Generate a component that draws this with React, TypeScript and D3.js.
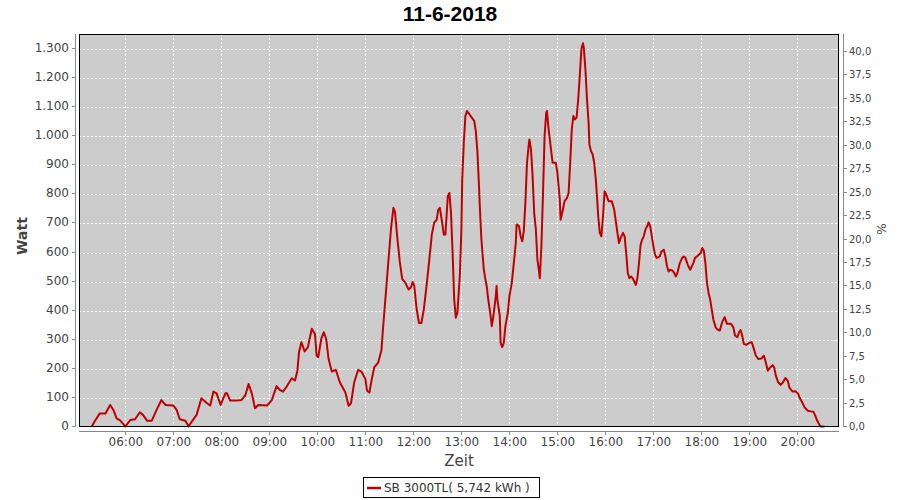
import React from "react";
import * as d3 from "d3";

const TITLE = "11-6-2018";
const X_LABEL = "Zeit";
const Y_LABEL = "Watt";
const Y2_LABEL = "%";
const LEGEND_LABEL = "SB 3000TL( 5,742 kWh )";

const times = [
  "05:18","05:22","05:28","05:35","05:41","05:45","05:49","05:53","05:57","06:00",
  "06:06","06:12","06:18","06:22","06:27","06:33","06:39","06:45","06:50","07:00",
  "07:04","07:08","07:15","07:19","07:23","07:29","07:35","07:42","07:46","07:50",
  "07:54","07:59","08:05","08:07","08:11","08:19","08:25","08:30","08:34","08:38",
  "08:42","08:46","08:57","09:03","09:09","09:13","09:17","09:21","09:28","09:32",
  "09:35","09:37","09:40","09:44","09:48","09:53","09:57","09:59","10:01","10:05",
  "10:08","10:11","10:14","10:18","10:23","10:28","10:35","10:39","10:42","10:46",
  "10:51","10:55","11:00","11:02","11:05","11:08","11:11","11:16","11:20","11:22",
  "11:26","11:29","11:32","11:35","11:37","11:40","11:43","11:46","11:50","11:54",
  "11:57","11:59","12:01","12:04","12:07","12:10","12:13","12:17","12:20","12:23",
  "12:26","12:29","12:31","12:33","12:36","12:38","12:40","12:43","12:45","12:47",
  "12:49","12:51","12:53","12:55","12:58","13:00","13:01","13:03","13:05","13:07",
  "13:10","13:13","13:16","13:18","13:20","13:22","13:23","13:25","13:28","13:30",
  "13:32","13:33","13:36","13:38","13:40","13:43","13:44","13:45","13:48","13:49",
  "13:51","13:53","13:55","13:58","14:00","14:03","14:06","14:08","14:09","14:12",
  "14:14","14:16","14:18","14:20","14:22","14:24","14:25","14:27","14:29","14:31",
  "14:33","14:35","14:37","14:38","14:40","14:42","14:44","14:46","14:47","14:49",
  "14:52","14:54","14:58","15:00","15:03","15:04","15:06","15:09","15:12","15:14",
  "15:16","15:18","15:20","15:22","15:24","15:26","15:28","15:30","15:32","15:33",
  "15:35","15:37","15:39","15:40","15:42","15:44","15:46","15:48","15:50","15:51",
  "15:53","15:55","15:57","15:59","16:01","16:04","16:08","16:11","16:13","16:15",
  "16:17","16:19","16:22","16:24","16:26","16:28","16:30","16:32","16:34","16:36",
  "16:38","16:40","16:42","16:44","16:46","16:48","16:50","16:53","16:54","16:56",
  "16:58","17:00","17:02","17:04","17:08","17:10","17:13","17:15","17:17","17:19",
  "17:21","17:24","17:26","17:28","17:30","17:33","17:36","17:38","17:40","17:43",
  "17:46","17:47","17:50","17:52","17:55","17:59","18:01","18:03","18:05","18:07",
  "18:09","18:11","18:13","18:15","18:18","18:20","18:23","18:26","18:29","18:32",
  "18:37","18:40","18:42","18:45","18:47","18:49","18:51","18:53","18:56","19:00",
  "19:03","19:05","19:08","19:11","19:15","19:18","19:20","19:23","19:26","19:29",
  "19:31","19:33","19:36","19:39","19:42","19:45","19:48","19:50","19:54","19:58",
  "20:01","20:03","20:06","20:09","20:13","20:17","20:20","20:22","20:24","20:27",
  "20:29","20:34"
];

const watts = [
  0,20,45,45,74,57,28,22,10,0,
  22,25,49,40,20,20,57,91,74,72,
  57,25,20,0,17,40,97,80,72,120,
  114,74,114,114,89,89,91,108,146,114,
  63,74,72,91,139,126,120,135,166,158,
  192,255,290,258,272,336,318,244,238,303,
  324,301,232,189,195,152,117,71,80,152,
  195,189,163,123,117,163,203,220,261,336,
  474,577,680,752,738,646,566,508,494,471,
  479,497,485,405,356,356,402,497,577,660,
  701,710,745,752,700,660,660,792,803,734,
  598,437,374,391,517,677,849,976,1068,1085,
  1074,1062,1051,1016,947,826,757,643,540,506,
  477,448,391,345,380,448,483,437,380,288,
  273,288,345,391,448,494,575,632,695,689,
  655,637,672,770,907,964,987,953,861,734,
  680,574,535,510,620,800,999,1079,1085,1022,
  953,907,907,873,780,711,734,775,786,803,
  907,1022,1068,1056,1062,1125,1206,1298,1318,1303,
  1229,1125,1045,970,947,936,907,850,769,723,
  666,654,723,809,798,775,775,746,706,666,
  631,648,666,654,597,528,510,516,510,499,
  487,510,562,625,643,654,677,694,702,689,
  654,620,591,580,585,602,608,585,551,533,
  539,536,528,516,528,562,580,585,580,556,
  539,545,562,580,586,596,614,605,562,493,
  459,436,401,367,340,334,330,359,376,353,
  353,341,313,307,324,332,313,284,281,288,
  290,272,244,232,234,244,226,192,203,211,
  203,175,152,143,152,167,157,134,120,121,
  112,97,83,66,54,52,51,39,25,8,
  0,0
];

const leftTicks = [0,100,200,300,400,500,600,700,800,900,1000,1100,1200,1300];
const rightTicks = [0,2.5,5,7.5,10,12.5,15,17.5,20,22.5,25,27.5,30,32.5,35,37.5,40];
const hourTicks = ["06:00","07:00","08:00","09:00","10:00","11:00","12:00","13:00","14:00","15:00","16:00","17:00","18:00","19:00","20:00"];
const X_START = "05:02";
const X_END = "20:52";
const LEFT_MAX = 1351.5;
const RIGHT_MAX = 41.92;

function parseT(s: string): Date {
  const [h, m] = s.split(":").map(Number);
  return new Date(2018, 5, 11, h, m);
}

const fmtLeft = (v: number) => {
  const s = String(Math.round(v));
  return s.replace(/\B(?=(\d{3})+(?!\d))/g, ".");
};
const fmtRight = (v: number) => v.toFixed(1).replace(".", ",");

export default function App() {
  const W = 900, H = 500;
  const pl = 79, pr = 839, pt = 34, pb = 427;
  const x = d3.scaleTime().domain([parseT(X_START), parseT(X_END)]).range([pl, pr]);
  const y = d3.scaleLinear().domain([0, LEFT_MAX]).range([pb, pt]);
  const yR = d3.scaleLinear().domain([0, RIGHT_MAX]).range([pb, pt]);

  const data = times.map((t, i) => ({ t: parseT(t), v: watts[i] }));
  const line = d3.line<{ t: Date; v: number }>().x(d => x(d.t)).y(d => y(d.v) - 0.5);
  const path = line(data) || "";

  const font = "DejaVu Sans, sans-serif";
  const textCol = "#444444";
  const axisCol = "#888888";
  const px = (v: number) => Math.round(v) + 0.5;

  return (
    <div style={{ position: "absolute", left: 0, top: 0 }}>
      <svg width={W} height={H} style={{ display: "block" }}>
        <rect x={0} y={0} width={W} height={H} fill="#ffffff" />
        <text x={450} y={21} textAnchor="middle" fontFamily="Liberation Sans, Arial, sans-serif" fontWeight="bold" fontSize={21} fill="#000">{TITLE}</text>

        {/* plot background */}
        <rect x={pl} y={pt} width={pr - pl} height={pb - pt} fill="#cccccc" />

        {/* gridlines */}
        <g shapeRendering="crispEdges">
          {hourTicks.map(h => (
            <line key={"gx" + h} x1={px(x(parseT(h)))} x2={px(x(parseT(h)))} y1={pt} y2={pb} stroke="#ffffff" strokeWidth={1} strokeDasharray="2,2" />
          ))}
          {leftTicks.filter(v => v > 0).map(v => (
            <line key={"gy" + v} x1={pl} x2={pr} y1={px(y(v))} y2={px(y(v))} stroke="#ffffff" strokeWidth={1} strokeDasharray="2,2" />
          ))}
        </g>

        {/* series */}
        <path d={path} fill="none" stroke="#c00000" strokeWidth={2} strokeLinejoin="round" />

        {/* plot border */}
        <rect x={pl + 0.5} y={pt + 0.5} width={pr - pl - 1} height={pb - pt - 1} fill="none" stroke="#000" strokeWidth={1} shapeRendering="crispEdges" />

        {/* left axis */}
        <g shapeRendering="crispEdges">
          <line x1={75.5} x2={75.5} y1={pt} y2={pb} stroke={axisCol} />
          {leftTicks.map(v => (
            <line key={"lt" + v} x1={72} x2={76} y1={px(y(v)) - 1} y2={px(y(v)) - 1} stroke={axisCol} />
          ))}
        </g>
        {leftTicks.map(v => (
          <text key={"ll" + v} x={69} y={y(v) + 3} textAnchor="end" fontFamily={font} fontSize={12} fill={textCol}>{fmtLeft(v)}</text>
        ))}
        <text transform="translate(27,236) rotate(-90)" textAnchor="middle" fontFamily={font} fontWeight="bold" fontSize={14} fill={textCol}>{Y_LABEL}</text>

        {/* right axis */}
        <g shapeRendering="crispEdges">
          <line x1={843.5} x2={843.5} y1={pt} y2={pb} stroke={axisCol} />
          {rightTicks.map(v => (
            <line key={"rt" + v} x1={843} x2={847} y1={px(yR(v)) - 1} y2={px(yR(v)) - 1} stroke={axisCol} />
          ))}
        </g>
        {rightTicks.map(v => (
          <text key={"rl" + v} x={849} y={yR(v) + 3} textAnchor="start" fontFamily={font} fontSize={10} fill={textCol}>{fmtRight(v)}</text>
        ))}
        <text transform="translate(886,229) rotate(-90)" textAnchor="middle" fontFamily={font} fontSize={12} fill={textCol}>{Y2_LABEL}</text>

        {/* bottom axis */}
        <g shapeRendering="crispEdges">
          <line x1={pl} x2={pr} y1={431.5} y2={431.5} stroke={axisCol} />
          {hourTicks.map(h => (
            <line key={"bt" + h} x1={px(x(parseT(h)))} x2={px(x(parseT(h)))} y1={431} y2={435} stroke={axisCol} />
          ))}
        </g>
        {hourTicks.map(h => (
          <text key={"bl" + h} x={x(parseT(h)) + 0.5} y={446} textAnchor="middle" fontFamily={font} fontSize={12} fill={textCol}>{h}</text>
        ))}
        <text x={459} y={466} textAnchor="middle" fontFamily={font} fontSize={15} fill={textCol}>{X_LABEL}</text>

        {/* legend */}
        <rect x={363.5} y={477.5} width={176} height={20} fill="#ffffff" stroke="#000" strokeWidth={1} shapeRendering="crispEdges" />
        <line x1={367} x2={381} y1={488} y2={488} stroke="#c00000" strokeWidth={2.5} />
        <text x={384} y={492} fontFamily={font} fontSize={12} fill="#333333">{LEGEND_LABEL}</text>
      </svg>
    </div>
  );
}
